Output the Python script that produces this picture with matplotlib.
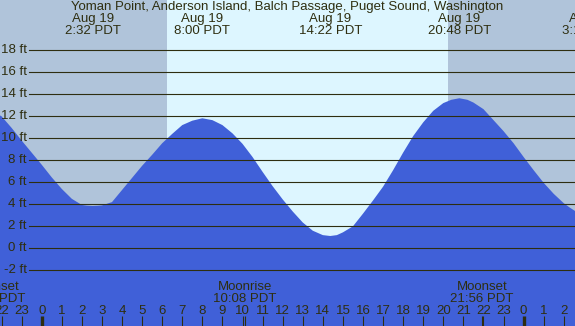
import numpy as np
import matplotlib.pyplot as plt
from matplotlib.transforms import blended_transform_factory

# tide heights (ft), hour 0 = midnight Aug 19
hours = [-2.1, -2, -1.5, -1, -0.5, 0, 0.5, 1, 1.5, 2, 2.25, 2.53, 2.8, 3, 3.5,
         4, 4.5, 5, 5.5, 6, 6.5, 7, 7.5, 8, 8.5, 9, 9.5, 10, 10.5, 11, 11.5,
         12, 12.5, 13, 13.5, 14, 14.37, 14.7, 15, 15.5, 16, 16.5, 17, 17.5,
         18, 18.5, 19, 19.5, 20, 20.4, 20.8, 21.2, 21.5, 22, 22.5, 23, 23.5,
         24, 24.5, 25, 25.5, 26, 26.3, 26.6]
heights = [12.1, 12.0, 10.95, 9.8, 8.7, 7.6, 6.45, 5.4, 4.5, 3.94, 3.88, 3.85,
           3.87, 3.9, 4.2, 5.3, 6.4, 7.5, 8.5, 9.55, 10.4, 11.2, 11.6, 11.82,
           11.65, 11.2, 10.45, 9.5, 8.3, 6.95, 5.65, 4.45, 3.35, 2.35, 1.6, 1.2,
           1.12, 1.2, 1.45, 2.0, 3.15, 4.35, 5.6, 7.1, 8.7, 10.2, 11.45, 12.5,
           13.2, 13.5, 13.64, 13.5, 13.25, 12.65, 11.65, 10.65, 9.55, 8.3, 7.1,
           5.95, 4.95, 4.1, 3.7, 3.35]

# high / low tide labels
event_hours = [2.533, 8.0, 14.367, 20.8, 27.3]
event_dates = ['Aug 19', 'Aug 19', 'Aug 19', 'Aug 19', 'Aug 20']
event_times = ['2:32 PDT', '8:00 PDT', '14:22 PDT', '20:48 PDT', '3:18 PDT']

# moon events
moon_hours = [-2.37, 10.133, 21.933]
moon_names = ['Moonset', 'Moonrise', 'Moonset']
moon_times = ['21:38 PDT', '10:08 PDT', '21:56 PDT']

sunrise = 6.225
sunset = 20.23

y_ticks = [-2, 0, 2, 4, 6, 8, 10, 12, 14, 16, 18]
tick_hours = list(range(-2, 27))

title = 'Yoman Point, Anderson Island, Balch Passage, Puget Sound, Washington'

night_col = '#b0c4da'
day_col = '#ddf6ff'
water_col = '#4060d8'
ink = '#2e2e10'

W, H = 575, 326
x0, x1 = -41.7 / 20.08, (W - 41.7) / 20.08
y0, y1 = -7.06, 22.57
fs = 9.5

plt.rcParams['font.family'] = ['Liberation Sans', 'DejaVu Sans']

fig = plt.figure(figsize=(W / 100, H / 100), dpi=100)
ax = fig.add_axes([0, 0, 1, 1])
ax.set_xlim(x0, x1)
ax.set_ylim(y0, y1)
ax.axis('off')

# day / night background
ax.axvspan(x0, sunrise, color=night_col, lw=0, zorder=0)
ax.axvspan(sunrise, sunset, color=day_col, lw=0, zorder=0)
ax.axvspan(sunset, x1, color=night_col, lw=0, zorder=0)

# water
ax.fill_between(hours, heights, y0, color=water_col, lw=0, zorder=1)

# height grid and labels
for yv in y_ticks:
    ax.axhline(yv, xmin=29 / W, xmax=1, color=ink, lw=0.8, zorder=2)
    ax.text(27 / W * (x1 - x0) + x0, yv, f'{yv} ft', ha='right', va='center',
            fontsize=fs, color=ink, zorder=3)

trans = blended_transform_factory(ax.transData, ax.transAxes)

ax.text(0.5, 1 - 7 / H, title, transform=ax.transAxes, ha='center', va='center',
        fontsize=fs, color=ink)
for h, d, t in zip(event_hours, event_dates, event_times):
    ax.text(h, 1 - 19 / H, d, transform=trans, ha='center', va='center', fontsize=fs, color=ink)
    ax.text(h, 1 - 31 / H, t, transform=trans, ha='center', va='center', fontsize=fs, color=ink)

for h, n, t in zip(moon_hours, moon_names, moon_times):
    ax.text(h, 1 - 287 / H, n, transform=trans, ha='center', va='center', fontsize=fs, color=ink)
    ax.text(h, 1 - 299 / H, t, transform=trans, ha='center', va='center', fontsize=fs, color=ink)
    ax.vlines(h, 0, 10 / H, transform=trans, color=ink, lw=0.8, zorder=3)

# hour ticks
for h in tick_hours:
    lw = 2.4 if h % 24 == 0 else 0.8
    ax.vlines(h, 0, 10 / H, transform=trans, color=ink, lw=lw, zorder=3)
    ax.text(h, 1 - 311 / H, str(h % 24), transform=trans, ha='center', va='center',
            fontsize=fs, color=ink)

fig.savefig('out.png', dpi=100)
